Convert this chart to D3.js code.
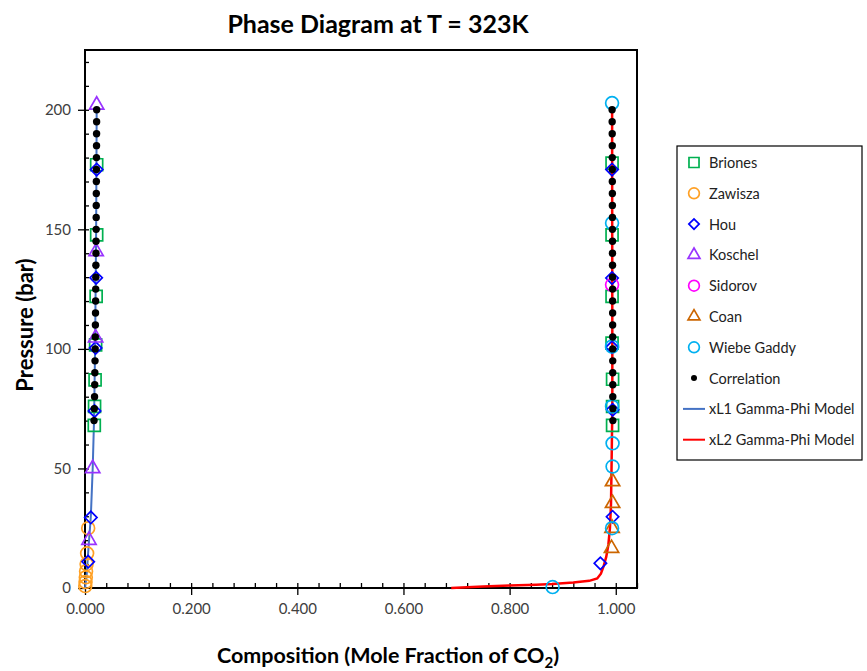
<!DOCTYPE html>
<html>
<head>
<meta charset="utf-8">
<script src="https://cdn.jsdelivr.net/npm/d3@7"></script>
<style>
body { margin: 0; background: #fff; }
text { font-family: Lato, "Open Sans", sans-serif; }
</style>
</head>
<body>
<svg id="chart" width="867" height="671"></svg>
<script>
// data: [mole fraction CO2, pressure bar]
var briones = [[0.022,177],[0.022,147.7],[0.021,122],[0.020,101.7],[0.019,87],[0.018,76],[0.0175,68],
  [0.993,177.7],[0.993,147.7],[0.993,122],[0.993,102.4],[0.994,87.3],[0.994,75.9],[0.994,68]];
var zawisza = [[0.006,25],[0.004,14.5],[0.003,10],[0.002,7],[0.0015,4.5],[0.001,2.5],[0.0005,0.8]];
var hou = [[0.022,175],[0.021,129.7],[0.020,100.4],[0.018,74],[0.011,29.5],[0.006,11],
  [0.993,175],[0.993,129.6],[0.993,100.7],[0.994,74.5],[0.994,29.8],[0.971,10.3]];
var koschel = [[0.022,202],[0.021,140.7],[0.020,104.6],[0.0145,50],[0.0075,20]];
var sidorov = [[0.993,126.8]];
var coan = [[0.994,44.5],[0.994,35.4],[0.993,25],[0.992,16.6]];
var wiebe = [[0.993,202.8],[0.993,152.6],[0.993,101],[0.993,75.9],[0.994,60.5],[0.994,50.8],[0.993,25],[0.881,0.4]];

var corrP = [70,75,80,85,90,95,100,105,110,115,120,125,130,135,140,145,150,155,160,165,170,175,180,185,190,195,200];
var corrX1 = [0.017,0.0175,0.018,0.0183,0.0186,0.0189,0.0192,0.0194,0.0196,0.0198,0.020,0.0202,0.0204,0.0205,
  0.0207,0.0208,0.021,0.0211,0.0212,0.0213,0.0214,0.0215,0.0216,0.0217,0.0218,0.0219,0.022];
var corrX2 = [0.9945,0.9945,0.9944,0.9944,0.9943,0.9943,0.9942,0.9942,0.9941,0.9941,0.994,0.994,0.9939,0.9939,
  0.9938,0.9938,0.9937,0.9937,0.9936,0.9936,0.9935,0.9935,0.9934,0.9934,0.9933,0.9932,0.9931];

var xL1 = [[0,0],[0.003,5],[0.006,15],[0.011,30],[0.0145,50],[0.017,70],[0.019,100],[0.021,150],[0.022,200]];
var xL2 = [[0.690,0],[0.75,0.6],[0.80,1.0],[0.85,1.4],[0.88,1.7],[0.92,2.3],[0.95,3.0],[0.965,4.0],[0.972,6],
  [0.977,9],[0.982,13],[0.986,18],[0.989,25],[0.991,35],[0.992,50],[0.9935,75],[0.9935,100],[0.9933,150],[0.9931,200]];

var xTicks = [0, 0.2, 0.4, 0.6, 0.8, 1.0];
var yTicks = [0, 50, 100, 150, 200];

var svg = d3.select("#chart");
var pLeft = 85, pRight = 637, pTop = 50, pBottom = 588;

var x = d3.scaleLinear().domain([0, 1.04]).range([pLeft, pRight]);
var y = d3.scaleLinear().domain([0, 225]).range([pBottom, pTop]);

// minor ticks (inside)
svg.append("g")
  .attr("transform", "translate(0," + pBottom + ")")
  .call(d3.axisBottom(x).tickValues(d3.range(0.04, 1.041, 0.04)).tickSize(-5).tickFormat(""))
  .call(g => g.select(".domain").remove());
svg.append("g")
  .attr("transform", "translate(" + pLeft + ",0)")
  .call(d3.axisLeft(y).tickValues(d3.range(10, 225, 10)).tickSize(-4).tickFormat(""))
  .call(g => g.select(".domain").remove());

// major ticks
var xAxis = svg.append("g")
  .attr("transform", "translate(0," + pBottom + ")")
  .call(d3.axisBottom(x).tickValues(xTicks).tickSize(7).tickPadding(8).tickFormat(d3.format(".3f")));
xAxis.select(".domain").remove();
var yAxis = svg.append("g")
  .attr("transform", "translate(" + pLeft + ",0)")
  .call(d3.axisLeft(y).tickValues(yTicks).tickSize(7).tickPadding(7));
yAxis.select(".domain").remove();
svg.selectAll(".tick line").attr("stroke", "#000").attr("stroke-width", 1.3);
svg.selectAll(".tick text").attr("fill", "#404040").style("font-size", "15px");

// frame
svg.append("rect")
  .attr("x", pLeft).attr("y", pTop)
  .attr("width", pRight - pLeft).attr("height", pBottom - pTop)
  .attr("fill", "none").attr("stroke", "#000").attr("stroke-width", 2);

// model lines
var line = d3.line().x(d => x(d[0])).y(d => y(d[1]));
svg.append("path").datum(xL1).attr("d", line)
  .attr("fill", "none").attr("stroke", "#4472c4").attr("stroke-width", 2);
svg.append("path").datum(xL2).attr("d", line)
  .attr("fill", "none").attr("stroke", "#ff0000").attr("stroke-width", 2.5);

var series = [
  {name: "Briones", data: briones, color: "#00b050", type: "square"},
  {name: "Zawisza", data: zawisza, color: "#ffa024", type: "circle"},
  {name: "Hou", data: hou, color: "#0000ff", type: "diamond"},
  {name: "Koschel", data: koschel, color: "#9933ff", type: "triangle"},
  {name: "Sidorov", data: sidorov, color: "#ff00ff", type: "circle"},
  {name: "Coan", data: coan, color: "#cc6600", type: "triangle"},
  {name: "Wiebe Gaddy", data: wiebe, color: "#00b0f0", type: "circle"}
];

function symbolPath(type, scale) {
  if (type === "square") return d3.symbol(d3.symbolSquare, 144 * scale)();
  if (type === "circle") return d3.symbol(d3.symbolCircle, 130 * scale)();
  if (type === "diamond") return d3.symbol(d3.symbolSquare, 76 * scale)();
  return d3.symbol(d3.symbolTriangle, 88 * scale)();
}

series.forEach(function (s) {
  svg.append("g").selectAll("path")
    .data(s.data)
    .join("path")
    .attr("d", symbolPath(s.type, 1))
    .attr("transform", d => "translate(" + x(d[0]) + "," + y(d[1]) + ")" + (s.type === "diamond" ? " rotate(45)" : ""))
    .attr("fill", "none")
    .attr("stroke", s.color)
    .attr("stroke-width", 1.7);
});

// correlation dots
var corr = corrP.map((p, i) => [corrX1[i], p]).concat(corrP.map((p, i) => [corrX2[i], p]));
svg.append("g").selectAll("circle")
  .data(corr)
  .join("circle")
  .attr("cx", d => x(d[0]))
  .attr("cy", d => y(d[1]))
  .attr("r", 3.7)
  .attr("fill", "#000");

// titles
svg.append("text")
  .attr("x", 378).attr("y", 33)
  .attr("text-anchor", "middle")
  .style("font-size", "25px").style("font-weight", "bold")
  .text("Phase Diagram at T = 323K");

svg.append("text")
  .attr("transform", "translate(33,325) rotate(-90)")
  .attr("text-anchor", "middle")
  .style("font-size", "22px").style("font-weight", "bold")
  .text("Pressure (bar)");

var xl = svg.append("text")
  .attr("x", 388).attr("y", 663)
  .attr("text-anchor", "middle")
  .style("font-size", "21.5px").style("font-weight", "bold");
xl.append("tspan").text("Composition (Mole Fraction of CO");
xl.append("tspan").attr("dy", 5).style("font-size", "15px").text("2");
xl.append("tspan").attr("dy", -5).text(")");

// legend
var lg = svg.append("g");
lg.append("rect")
  .attr("x", 677).attr("y", 146).attr("width", 185).attr("height", 314)
  .attr("fill", "#fff").attr("stroke", "#000").attr("stroke-width", 1.2);

var legendItems = series.map(s => ({name: s.name, color: s.color, type: s.type}))
  .concat([{name: "Correlation", color: "#000", type: "dot"},
           {name: "xL1 Gamma-Phi Model", color: "#4472c4", type: "line"},
           {name: "xL2 Gamma-Phi Model", color: "#ff0000", type: "line"}]);

var rows = lg.selectAll("g.row")
  .data(legendItems)
  .join("g")
  .attr("class", "row")
  .attr("transform", (d, i) => "translate(0," + (162.5 + i * 30.8) + ")");

rows.each(function (d) {
  var r = d3.select(this);
  if (d.type === "line") {
    r.append("line").attr("x1", 683).attr("x2", 705).attr("y1", 0).attr("y2", 0)
      .attr("stroke", d.color).attr("stroke-width", 2);
  } else if (d.type === "dot") {
    r.append("circle").attr("cx", 694).attr("cy", 0).attr("r", 3).attr("fill", "#000");
  } else {
    r.append("path").attr("d", symbolPath(d.type, 0.7))
      .attr("transform", "translate(694,0)" + (d.type === "diamond" ? " rotate(45)" : ""))
      .attr("fill", "none").attr("stroke", d.color).attr("stroke-width", 1.7);
  }
  r.append("text").attr("x", 709).attr("y", 5.5)
    .attr("fill", "#222").style("font-size", "14.5px")
    .text(d.name);
});
</script>
</body>
</html>
